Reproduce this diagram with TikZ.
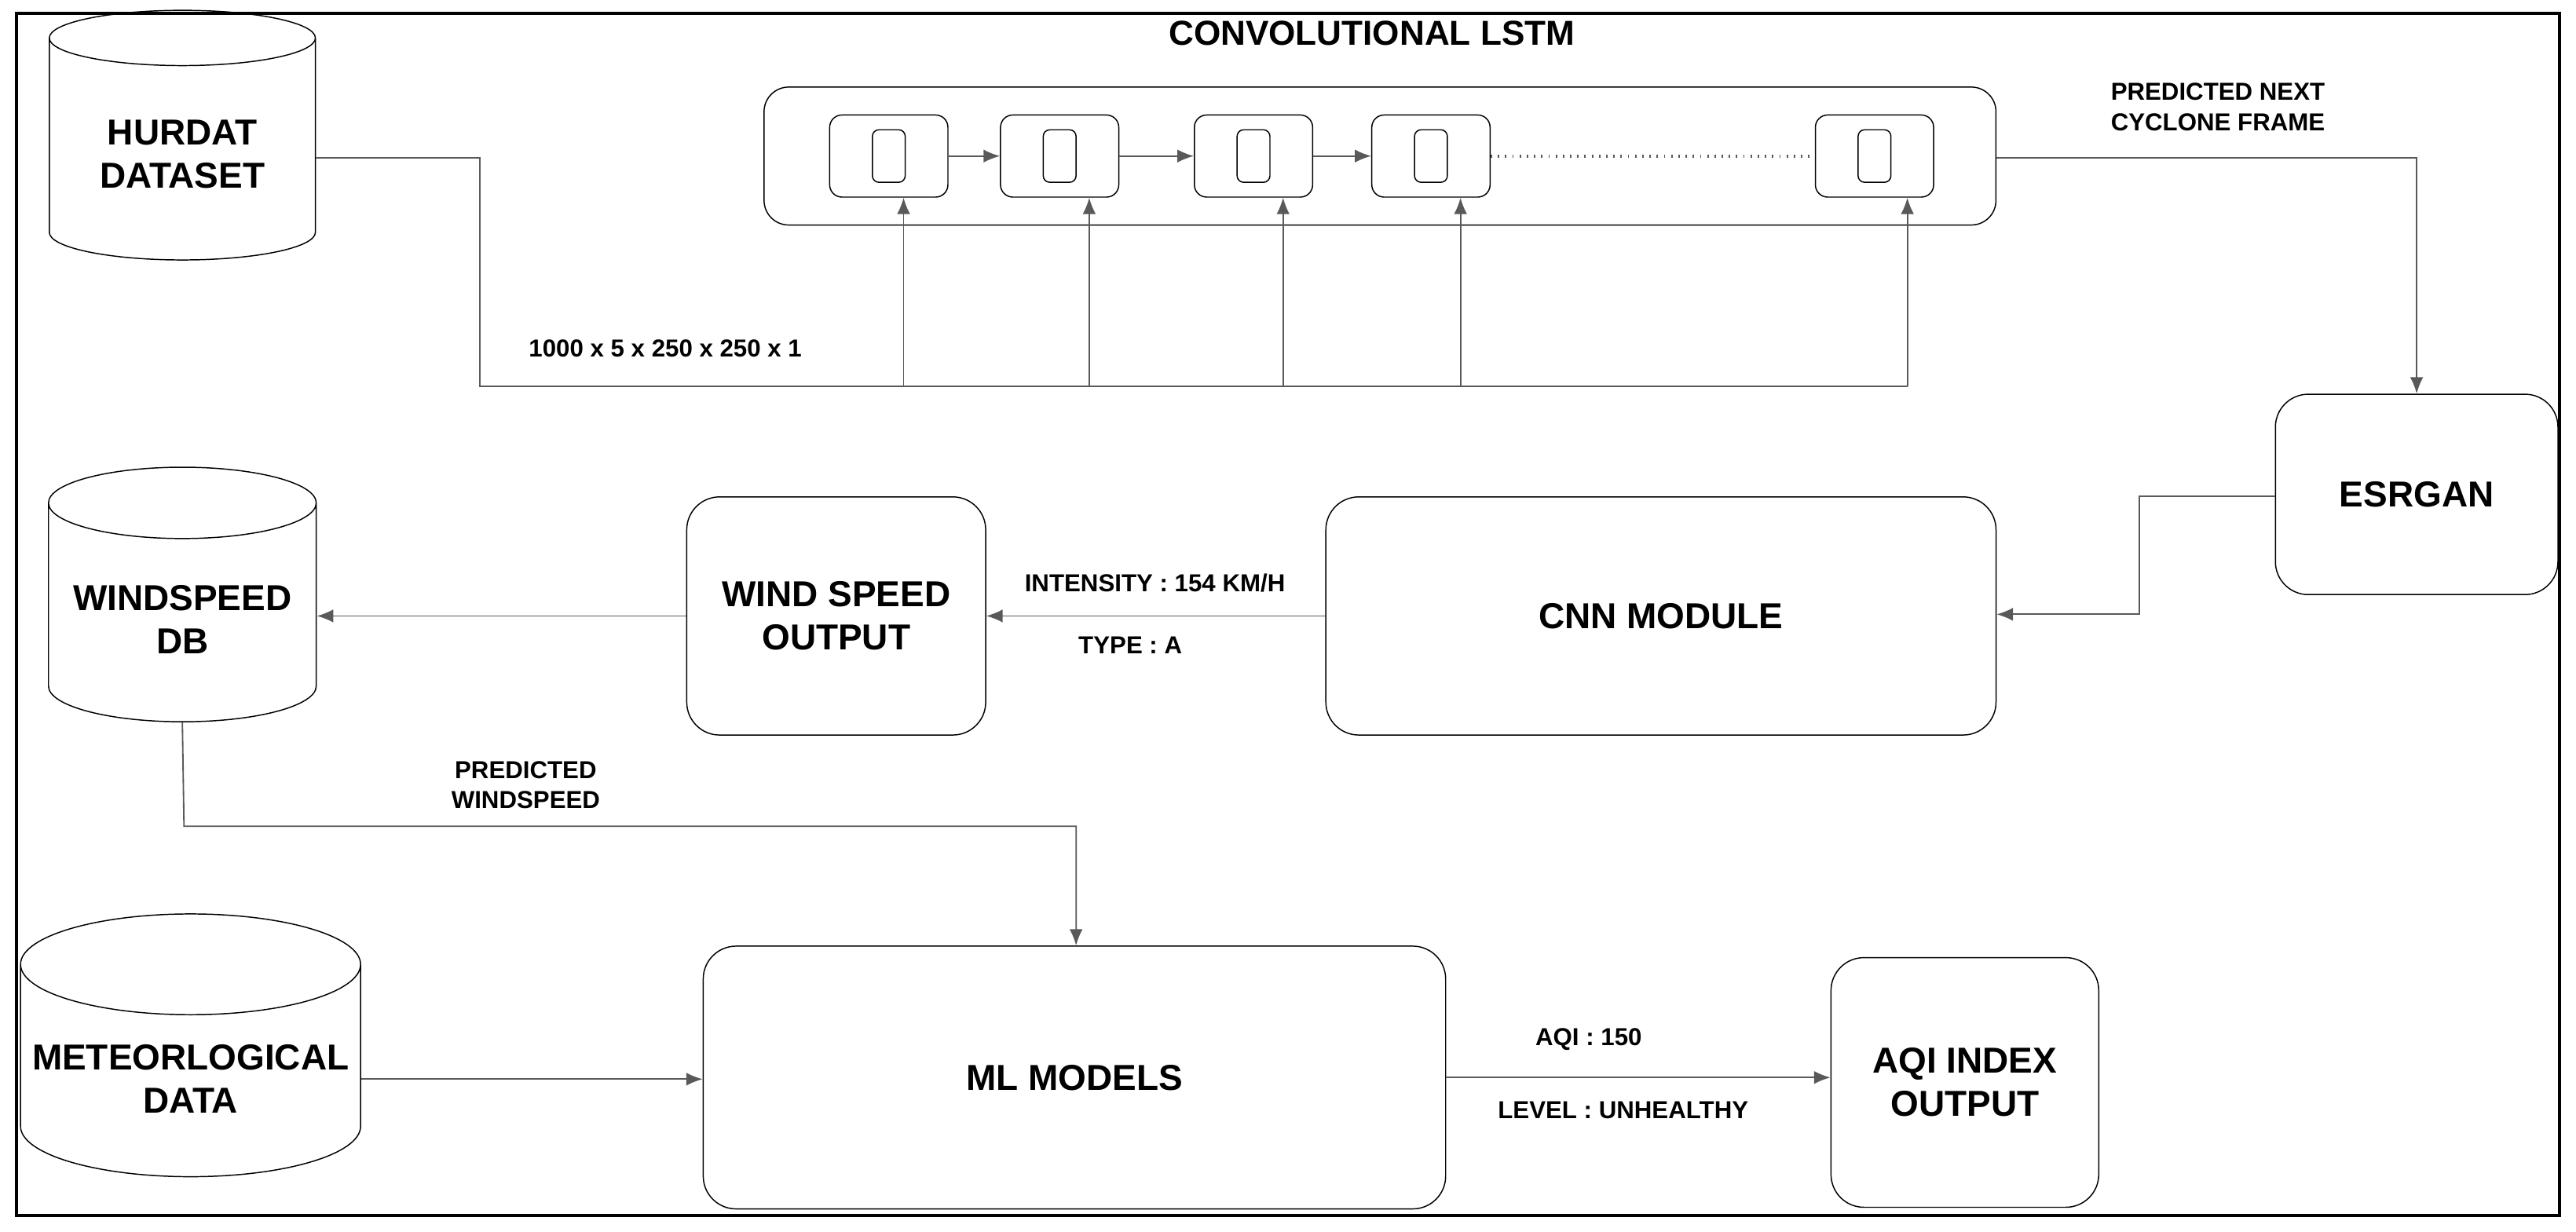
\documentclass[tikz,border=0pt]{standalone}
\usepackage{fontspec}
\setmainfont{Liberation Sans}
\usetikzlibrary{arrows.meta, positioning, calc, shapes.geometric}

\begin{document}
\begin{tikzpicture}[>={Latex[length=2mm,width=1.6mm]}, x=0.02cm, y=-0.02cm,
  font=\bfseries,
  box/.style={draw, rounded corners=4mm, align=center, font=\bfseries\fontsize{12.5}{15}\selectfont},
  db/.style={draw, cylinder, shape border rotate=90, aspect=0.3, align=center,
             font=\bfseries\fontsize{12.5}{15}\selectfont},
  cell/.style={draw, rounded corners=1.5mm, minimum width=1.44cm, minimum height=1cm},
  core/.style={draw, rounded corners=0.8mm, minimum width=0.4cm, minimum height=0.64cm},
  lbl/.style={font=\bfseries\fontsize{8.5}{10.5}\selectfont, align=center},
  line/.style={draw, gray!70!black, line width=0.5pt}]

\useasboundingbox (0,0) rectangle (1568,750);
\draw[line width=1pt] (10,8) rectangle (1558,740);

% -----------------------------------------------------
%  Convolutional LSTM
% -----------------------------------------------------
\node[db, minimum width=3.24cm, minimum height=3.04cm] (hurdat) at (111,94) {HURDAT\\DATASET};

\node[draw, rounded corners=3mm, minimum width=15cm, minimum height=1.68cm] (lstm) at (840,95) {};
\node[font=\bfseries\fontsize{12}{14}\selectfont] (lstmT) at (835,20) {CONVOLUTIONAL LSTM};

\foreach \i/\x in {1/541, 2/645, 3/763, 4/871, 5/1141}{
  \node[cell] (c\i) at (\x,95) {};
  \node[core] (k\i) at (\x,95) {};
}
\foreach \i [count=\j from 2] in {1,2,3}{
  \draw[->, line] (c\i) -- (c\j);
}
\draw[line, dotted, line width=1pt] (c4) -- (c5);

% Inputs
\coordinate (hA) at (292,96);
\coordinate (hB) at (292,235);
\coordinate (hC) at (1161,235);
\draw[line] (hurdat.east |- hA) -- (hA) -- (hB) -- (hC);
\foreach \i/\x in {1/550, 2/663, 3/781, 4/889, 5/1161}{
  \coordinate (in\i) at (\x,235);
  \draw[->, line] (in\i) -- (in\i |- c\i.south);
}
\node[lbl] (shape) at (405,212) {1000 x 5 x 250 x 250 x 1};

% -----------------------------------------------------
%  ESRGAN and CNN
% -----------------------------------------------------
\node[box, minimum width=3.44cm, minimum height=2.44cm] (esr) at (1471,301) {ESRGAN};
\node[lbl] (next) at (1350,65) {PREDICTED NEXT\\CYCLONE FRAME};
\coordinate (eA) at (1471,96);
\draw[->, line] (lstm.east |- eA) -- (eA) -- (esr.north);

\node[box, minimum width=8.16cm, minimum height=2.9cm] (cnn) at (1011,375) {CNN MODULE};
\coordinate (eB) at (1302,302);
\coordinate (eC) at (1302,374);
\draw[->, line] (esr.west |- eB) -- (eB) -- (eC) -- (cnn.east |- eC);

\node[box, minimum width=3.64cm, minimum height=2.9cm] (wso) at (509,375) {WIND SPEED\\OUTPUT};
\draw[->, line] (cnn.west) -- (wso.east);
\node[lbl] (inten) at (703,355) {INTENSITY : 154 KM/H};
\node[lbl] (type) at (688,393) {TYPE : A};

\node[db, minimum width=3.26cm, minimum height=3.1cm] (wsdb) at (111,377) {WINDSPEED\\DB};
\draw[->, line] (wso.west) -- (wsdb.east |- wso.west);

% -----------------------------------------------------
%  ML models and AQI
% -----------------------------------------------------
\node[box, minimum width=9.04cm, minimum height=3.2cm] (ml) at (654,656) {ML MODELS};
\coordinate (wA) at (112,503);
\coordinate (wB) at (655,503);
\draw[->, line] (wsdb.south) -- (wA) -- (wB) -- (ml.north -| wB);
\node[lbl] (pws) at (320,478) {PREDICTED\\WINDSPEED};

\node[db, minimum width=4.14cm, minimum height=3.2cm] (met) at (116,657) {METEORLOGICAL\\DATA};
\draw[->, line] (met.east) -- (ml.west |- met.east);

\node[box, minimum width=3.26cm, minimum height=3.04cm] (aqi) at (1196,659) {AQI INDEX\\OUTPUT};
\draw[->, line] (ml.east) -- (aqi.west |- ml.east);
\node[lbl] (aqiv) at (967,633) {AQI : 150};
\node[lbl] (lvl) at (988,676) {LEVEL : UNHEALTHY};

\end{tikzpicture}
\end{document}
